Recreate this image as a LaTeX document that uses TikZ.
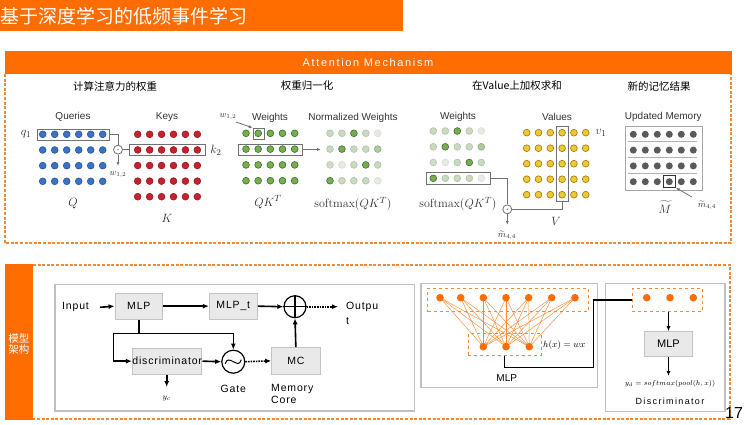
\documentclass[tikz,border=0pt]{standalone}
\usepackage[no-math]{fontspec}
\usepackage{amsmath}
\newfontfamily\arial{Liberation Sans}
\newfontfamily\arialsp{Liberation Sans}[LetterSpace=15]
\newfontfamily\blk{Liberation Sans}[LetterSpace=8]
\newfontfamily\cjk{Noto Sans CJK SC}
\usetikzlibrary{arrows.meta,calc}
\definecolor{orng}{HTML}{FF6C00}
\definecolor{dorng}{HTML}{EE8A3A}
\definecolor{txt}{HTML}{333333}
\definecolor{qfill}{HTML}{3B72C8}\definecolor{qdraw}{HTML}{2A5699}
\definecolor{kfill}{HTML}{C4232E}\definecolor{kdraw}{HTML}{9A1A22}
\definecolor{gfill}{HTML}{74B04E}\definecolor{gdraw}{HTML}{3E6B2A}
\definecolor{yfill}{HTML}{F0C832}\definecolor{ydraw}{HTML}{9A7A10}
\definecolor{mdot}{HTML}{5A5A5A}
\definecolor{hlc}{HTML}{707070}
\definecolor{boxfill}{HTML}{E9E9E9}\definecolor{boxdraw}{HTML}{C4C4C4}
\definecolor{gbox}{HTML}{C0C0C0}
\newcommand\ggrow[4]{%
  \foreach \p [count=\c from 0] in {#4} {%
    \filldraw[fill=gfill!\p!white!92!gray, draw=gdraw!\p!white!85!gray, line width=0.6pt]
      ({#1+#2*\c},#3) circle[radius=3.4pt];}}
\begin{document}
\begin{tikzpicture}[x=1pt,y=-1pt,
  lbl/.style={font=\arial\fontsize{10}{12}\selectfont, text=txt},
  sec/.style={font=\cjk\fontsize{10.5}{12}\selectfont, text=black},
  hl/.style={draw=hlc, line width=0.9pt, inner sep=0pt, fill=none},
  con/.style={draw=hlc, line width=0.8pt},
  carr/.style={con, -{Latex[length=4pt,width=3pt]}},
  mlab/.style={font=\fontsize{13}{13}\selectfont, text=txt},
  slab/.style={font=\fontsize{9}{9}\selectfont, text=txt, inner sep=1pt},
  dashbox/.style={draw=dorng, line width=1.8pt, dash pattern=on 3pt off 1.6pt},
  bx/.style={draw=boxdraw, fill=boxfill, line width=1pt, font=\blk\fontsize{10.5}{12}\selectfont, inner sep=0pt},
  btxt/.style={font=\blk\fontsize{10.5}{12}\selectfont, text=black},
  arr/.style={line width=1.6pt, -{Latex[length=6pt,width=5pt]}},
  dotarr/.style={line width=1.6pt, densely dotted, -{Latex[length=6pt,width=5pt]}},
  graybox/.style={draw=gbox, line width=1.5pt, fill=white, inner sep=0pt},
  dbox/.style={draw=dorng, line width=0.9pt, dashed, inner sep=0pt},
]
\useasboundingbox (0,0) rectangle (744,424);
\fill[white] (0,0) rectangle (744,424);

% ---------- title ----------
\fill[orng] (0,0) rectangle (403,31);
\node[anchor=west, text=white, font=\cjk\fontsize{19}{19}\selectfont, inner sep=0pt] (title) at (0,16) {基于深度学习的低频事件学习};

% ---------- attention section ----------
\fill[orng] (5,51) rectangle (732,74);
\node[text=white, font=\arialsp\fontsize{11}{12}\selectfont] (atthead) at (368,63) {Attention Mechanism};
\draw[dashbox] (5,74) -- (5,243) -- (731,243) -- (731,74);

\node[sec] (s1) at (115,86) {计算注意力的权重};
\node[sec] (s2) at (307,86) {权重归一化};
\node[sec] (s3) at (517,86) {在Value上加权求和};
\node[sec] (s4) at (659,86) {新的记忆结果};

% Queries
\node[lbl] (lq) at (73,117) {Queries};
\foreach \c in {0,...,5} \foreach \r in {0,...,3}
  \filldraw[fill=qfill, draw=qdraw, line width=0.6pt] ({42.7+12*\c},{134.3+15.67*\r}) circle[radius=3.4pt];
\node[hl, minimum width=71.3pt, minimum height=11pt] (qbox) at (73.35,134.5) {};
\node[mlab] (q1) at (26,134) {$q_1$};
\node[mlab] (Q) at (73,204) {$Q$};

% Keys
\node[lbl] (lk) at (167,117) {Keys};
\foreach \c in {0,...,5} \foreach \r in {0,...,4}
  \filldraw[fill=kfill, draw=kdraw, line width=0.6pt] ({137.7+11.93*\c},{134.3+15.6*\r}) circle[radius=3.4pt];
\node[hl, minimum width=75.7pt, minimum height=10.7pt] (kbox) at (167.15,149.65) {};
\node[mlab] (k2) at (216,150) {$k_2$};
\node[mlab] (K) at (167,218) {$K$};

% dot product
\node[circle, draw=hlc, line width=0.8pt, minimum size=9pt, inner sep=0pt, fill=white] (qk) at (118,149.65) {};
\fill[hlc] (qk.center) circle[radius=0.8pt];
\draw[con] (qbox.east) -| (qk.north);
\draw[con] (qk.east) -- (kbox.west);
\draw[carr] (qk.south) -- (118,166);
\node[slab] (w12a) at (118,175) {$w_{1,2}$};

% Weights (QK^T)
\node[lbl] (lw) at (270,118) {Weights};
\foreach \c in {0,...,4} \foreach \r in {0,...,3}
  \filldraw[fill=gfill, draw=gdraw, line width=0.6pt] ({246+12.17*\c},{133.3+15.8*\r}) circle[radius=3.4pt];
\node[hl, minimum width=10.7pt, minimum height=10.7pt] (w12box) at (258.65,133.65) {};
\node[hl, minimum width=64pt, minimum height=11pt] (wrow) at (270.3,149.5) {};
\node[slab] (w12b) at (228,117) {$w_{1,2}$};
\draw[carr] (236,122) -- (w12box.north west);
\draw[carr] (wrow.east) -- (321,149.5);
\node[mlab] (qkt) at (268,202) {$QK^T$};

% Normalized weights
\node[lbl] (lnw) at (353,118) {Normalized Weights};
\ggrow{330}{11.93}{133.3}{35,35,100,35,12}
\ggrow{330}{11.93}{149.1}{35,100,35,35,55}
\ggrow{330}{11.93}{164.9}{30,12,35,100,35}
\ggrow{330}{11.93}{180.7}{100,35,35,35,12}
\node[mlab] (sm1) at (353,204) {$\mathrm{softmax}(QK^T)$};

% Weights (third)
\node[lbl] (lw3) at (458,117) {Weights};
\ggrow{433.3}{12}{131}{35,35,100,35,12}
\ggrow{433.3}{12}{146.8}{35,100,35,35,55}
\ggrow{433.3}{12}{162.5}{30,12,35,100,35}
\ggrow{433.3}{12}{178.3}{100,35,35,35,12}
\node[hl, minimum width=64pt, minimum height=12.3pt] (wr3) at (458,178.6) {};
\node[mlab] (sm2) at (458,204) {$\mathrm{softmax}(QK^T)$};

% Values
\node[lbl] (lv) at (557,117) {Values};
\foreach \c in {0,...,5} \foreach \r in {0,...,4}
  \filldraw[fill=yfill, draw=ydraw, line width=0.6pt] ({526.7+11.8*\c},{132.7+15.5*\r}) circle[radius=3.4pt];
\node[hl, minimum width=11.6pt, minimum height=75.7pt] (vbox) at (562.5,163.85) {};
\node[mlab] (v1) at (601,133) {$v_1$};
\node[mlab] (V) at (556,221) {$V$};

\node[circle, draw=hlc, line width=0.8pt, minimum size=9pt, inner sep=0pt, fill=white] (mc1) at (507.3,209.3) {};
\fill[hlc] (mc1.center) circle[radius=0.8pt];
\draw[con] (wr3.east) -| (mc1.north);
\draw[con] (mc1.east) -| (vbox.south);
\draw[carr] (mc1.south) -- (507.3,225);
\node[slab] (m44a) at (507,235.5) {$\widetilde{m}_{4,4}$};

% Updated memory
\node[lbl] (lm) at (663.3,117) {Updated Memory};
\node[draw=gray!70, line width=0.8pt, minimum width=77pt, minimum height=64pt, inner sep=0pt] (membox) at (664.2,158) {};
\foreach \yy in {141.7,157.3,173.3} \draw[gray!60, line width=0.7pt] (628,\yy) -- (696.7,\yy);
\foreach \c in {0,...,5} \foreach \r in {0,...,3}
  \fill[mdot] ({633.3+12*\c},{134.3+15.8*\r}) circle[radius=3.5pt];
\node[draw=txt, line width=0.9pt, minimum width=12pt, minimum height=11.6pt, inner sep=0pt] (m44box) at (669.3,181.5) {};
\node[mlab, inner sep=1pt] (Mt) at (665,207) {$\widetilde{M}$};
\node[slab] (m44b) at (707,205.5) {$\widetilde{m}_{4,4}$};
\draw[carr] (692,197) -- (m44box.south east);

% ---------- model section ----------
\fill[orng] (5,264) rectangle (33,420);
\node[font=\cjk\fontsize{10.5}{12}\selectfont, text=white, align=center, inner sep=0pt] (modlbl) at (19,344) {模型\\[-1pt]架构};
\draw[dashbox] (33,265) -- (730,265) -- (730,419) -- (33,419);

% block diagram
\node[graybox, minimum width=359.3pt, minimum height=126.7pt] (blockbox) at (234.65,347.65) {};
\node[btxt, anchor=west, inner sep=0pt] (input) at (62,307.3) {Input};
\node[bx, minimum width=47.7pt, minimum height=25.7pt] (mlp) at (138.85,306.15) {MLP};
\node[bx, minimum width=48pt, minimum height=25.7pt] (mlpt) at (233.3,306.15) {MLP\_t};
\node[circle, draw, line width=1.2pt, minimum size=22pt, inner sep=0pt] (plus) at (295,306.7) {};
\draw[line width=1.2pt] (plus.north) -- (plus.south) (plus.west) -- (plus.east);
\node[btxt, anchor=west, inner sep=0pt] (out1) at (346,307.3) {Outpu};
\node[btxt, anchor=west, inner sep=0pt] (out2) at (346,321) {t};
\node[bx, minimum width=69pt, minimum height=25.7pt] (disc) at (167.2,361.15) {discriminator};
\node[circle, draw, line width=1.2pt, minimum size=23pt, inner sep=0pt] (gate) at (233.3,361.7) {};
\draw[line width=1pt] ($(gate.center)+(-8,2)$) .. controls ($(gate.center)+(-5,-9)$) and ($(gate.center)+(5,9)$) .. ($(gate.center)+(8,-2)$);
\node[bx, minimum width=48.3pt, minimum height=26.3pt] (mc) at (295.85,360.85) {MC};
\node[btxt] (gatelbl) at (233.3,388.5) {Gate};
\node[btxt, anchor=west, align=left, inner sep=0pt] (memcore) at (271,394) {Memory\\Core};
\node[font=\fontsize{8}{8}\selectfont] (yc) at (166.7,399) {$y_c$};

\coordinate (br) at (138.85,333.3);
\coordinate (bl) at (113.3,333.3);
\coordinate (bg) at (233.3,333.3);
\draw[arr] (100,307.3) -- (mlp.west);
\draw[arr] (mlp.east) -- (mlpt.west);
\draw[arr] (mlpt.east) -- (plus.west);
\draw[dotarr] (plus.east) -- (338,306.7);
\draw[line width=1.6pt] (mlp.south) -- (br);
\draw[line width=1.6pt] (bl) -- (bg);
\draw[arr] (bg) -- (gate.north);
\draw[arr] (bl) |- (disc.west);
\draw[arr] (disc.east) -- (gate.west);
\draw[dotarr] (gate.east) -- (mc.west);
\draw[arr] (mc.north) -- (plus.south);
\draw[arr] (disc.south -| yc) -- (166.7,387);

% MLP network
\node[graybox, minimum width=176.7pt, minimum height=104.4pt] (mlpbox) at (509.35,335.5) {};
\node[dbox, minimum width=160.6pt, minimum height=23.4pt] (ntop) at (508,300) {};
\node[dbox, minimum width=72.7pt, minimum height=22.4pt] (nbot) at (504.65,344.5) {};
\foreach \i/\xx in {1/440,2/460.7,3/483.3,4/506,5/528.7,6/551.7,7/575} \coordinate (t\i) at (\xx,297.7);
\foreach \j/\xx in {1/483.3,2/506,3/529.3} \coordinate (b\j) at (\xx,346.7);
\foreach \i in {1,...,7} \foreach \j in {1,2,3} \draw[orng!80, line width=0.45pt] (t\i) -- (b\j);
\foreach \i in {1,...,7} \fill[orng] (t\i) circle[radius=3.8pt];
\foreach \j in {1,2,3} \fill[orng] (b\j) circle[radius=3.8pt];
\node[font=\fontsize{9}{9}\selectfont, anchor=west, inner sep=0pt] (hx) at (543,345) {$h(x) = wx$};
\node[font=\arial\fontsize{10}{12}\selectfont] (mlplbl) at (506.7,378.5) {MLP};

% discriminator
\node[graybox, minimum width=119.3pt, minimum height=128.4pt] (discbox) at (665.35,347.5) {};
\node[dbox, minimum width=70pt, minimum height=23.4pt] (dtop) at (667.3,300) {};
\foreach \xx in {646.7,670,693.3} \fill[orng] (\xx,297.7) circle[radius=3.8pt];
\node[bx, minimum width=48.4pt, minimum height=25pt, font=\arial\fontsize{11}{12}\selectfont] (dmlp) at (668.5,344.2) {MLP};
\coordinate (dend) at (668.5,376);
\draw[line width=1.3pt] (nbot.south) -- ++(0,11.5) -| (593.3,300) -- (dtop.west);
\draw[line width=1.2pt, -{Latex[length=5pt,width=4pt]}] (dtop.south -| dmlp) -- (dmlp.north);
\draw[line width=1.2pt, -{Latex[length=5pt,width=4pt]}] (dmlp.south) -- (dend);
\node[font=\fontsize{7}{7}\selectfont] (yd) at (670,383.5) {$y_d = softmax(pool(h,x))$};
\node[font=\arialsp\fontsize{9}{10}\selectfont] (disclbl) at (670,401) {Discriminator};
\node[font=\arial\fontsize{16}{16}\selectfont, inner sep=0pt] (pgnum) at (734,413) {17};
\end{tikzpicture}
\end{document}
